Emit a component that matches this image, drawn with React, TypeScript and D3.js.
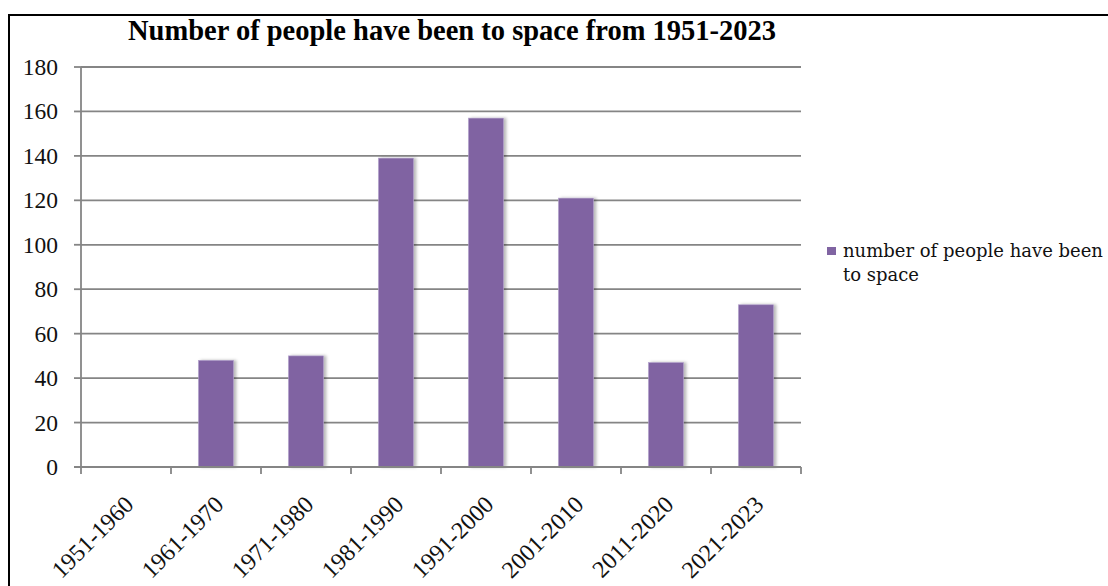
import { useMemo } from 'react'
import * as d3 from 'd3'

const decades = ['1951-1960', '1961-1970', '1971-1980', '1981-1990', '1991-2000', '2001-2010', '2011-2020', '2021-2023']
const peopleInSpace = [0, 48, 50, 139, 157, 121, 47, 73]
const yTicks = [0, 20, 40, 60, 80, 100, 120, 140, 160, 180]

const seriesName = 'number of people have been to space'
const title = 'Number of people have been to space from 1951-2023'

const W = 1108
const H = 586
const plot = { left: 81, right: 801, top: 67, bottom: 467 }
const barColor = '#8064a2'
const gridColor = '#858585'
const serif = '"Liberation Serif", "Times New Roman", serif'

export default function App() {
  const { x, y } = useMemo(() => {
    const x = d3.scaleBand<string>().domain(decades).range([plot.left, plot.right]).padding(0)
    const y = d3.scaleLinear().domain([0, 180]).range([plot.bottom, plot.top])
    return { x, y }
  }, [])

  const step = x.step()
  const barW = step * 0.39
  const legendLines = [seriesName.slice(0, seriesName.indexOf(' to ')), seriesName.slice(seriesName.indexOf(' to ') + 1)]

  return (
    <svg
      width={W}
      height={H}
      style={{ position: 'absolute', left: 0, top: 0, background: '#fff' }}
      fontFamily={serif}
    >
      <defs>
        <filter id="shadow" x="-20%" y="-10%" width="160%" height="120%">
          <feDropShadow dx={2.5} dy={0} stdDeviation={1.6} floodColor="#000" floodOpacity={0.28} />
        </filter>
      </defs>

      {/* outer frame */}
      <rect x={9} y={15} width={W + 20} height={H + 20} fill="#fff" stroke="#000" strokeWidth={2} />

      <text x={452} y={40} textAnchor="middle" fontSize={28.5} fontWeight="bold" fill="#000">
        {title}
      </text>

      {/* gridlines + y ticks */}
      {yTicks.map((t) => (
        <g key={t}>
          {t > 0 && (
            <line x1={plot.left} x2={plot.right} y1={y(t)} y2={y(t)} stroke={gridColor} strokeWidth={1.8} />
          )}
          <line x1={plot.left - 7} x2={plot.left} y1={y(t)} y2={y(t)} stroke={gridColor} strokeWidth={1.8} />
          <text x={58} y={y(t)} dy="0.34em" textAnchor="end" fontSize={23.5} fill="#111">
            {t}
          </text>
        </g>
      ))}

      {/* bars */}
      {decades.map((d, i) => {
        const v = peopleInSpace[i]
        if (v <= 0) return null
        const cx = (x(d) ?? 0) + step / 2
        return (
          <rect
            key={d}
            x={cx - barW / 2}
            y={y(v)}
            width={barW}
            height={y(0) - y(v)}
            fill={barColor}
            stroke="#b3a2cc"
            strokeWidth={0.6}
            filter="url(#shadow)"
          />
        )
      })}

      {/* axes */}
      <line x1={plot.left} x2={plot.left} y1={plot.top} y2={plot.bottom + 7} stroke={gridColor} strokeWidth={1.8} />
      <line x1={plot.left - 7} x2={plot.right} y1={plot.bottom} y2={plot.bottom} stroke={gridColor} strokeWidth={1.8} />
      {decades.map((d) => (
        <line
          key={d}
          x1={(x(d) ?? 0) + step}
          x2={(x(d) ?? 0) + step}
          y1={plot.bottom}
          y2={plot.bottom + 7}
          stroke={gridColor}
          strokeWidth={1.8}
        />
      ))}

      {/* x labels */}
      {decades.map((d) => {
        const cx = (x(d) ?? 0) + step / 2
        const ax = cx + 9
        const ay = plot.bottom + 39
        return (
          <text
            key={d}
            x={ax}
            y={ay}
            transform={`rotate(-45, ${ax}, ${ay})`}
            textAnchor="end"
            fontSize={24}
            fill="#111"
          >
            {d}
          </text>
        )
      })}

      {/* legend */}
      <rect x={827} y={247} width={9} height={8} fill={barColor} />
      <text x={843} y={257} fontSize={18} fontFamily='"DejaVu Serif", serif' fill="#111">
        <tspan x={843}>{legendLines[0]}</tspan>
        <tspan x={843} dy={24}>
          {legendLines[1]}
        </tspan>
      </text>
    </svg>
  )
}
